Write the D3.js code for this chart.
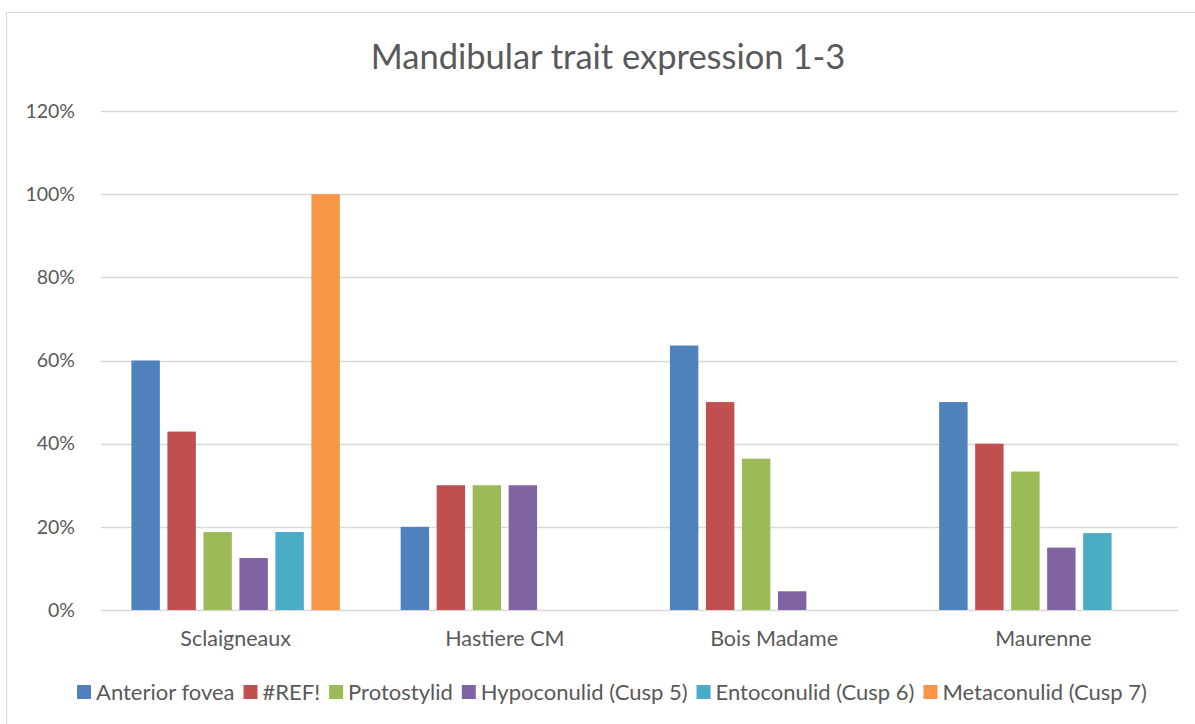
<!DOCTYPE html>
<html>
<head>
<meta charset="utf-8">
<script src="https://cdn.jsdelivr.net/npm/d3@7"></script>
<style>
  body { margin: 0; background: #fff; }
  text { font-family: Lato, "Open Sans", sans-serif; fill: #595959; }
</style>
</head>
<body>
<script>
var sites = ["Sclaigneaux", "Hastiere CM", "Bois Madame", "Maurenne"];
var traits = ["Anterior fovea", "#REF!", "Protostylid", "Hypoconulid (Cusp 5)", "Entoconulid (Cusp 6)", "Metaconulid (Cusp 7)"];
var colours = ["#4f81bd", "#c0504d", "#9bbb59", "#8064a2", "#4bacc6", "#f79646"];
// one array per trait, values per site (fraction)
var anteriorFovea = [0.60, 0.20, 0.636, 0.50];
var refError = [0.429, 0.30, 0.50, 0.40];
var protostylid = [0.1875, 0.30, 0.364, 0.333];
var hypoconulid = [0.125, 0.30, 0.045, 0.15];
var entoconulid = [0.1875, 0, 0, 0.185];
var metaconulid = [1.00, 0, 0, 0];
var yTicks = [0, 0.2, 0.4, 0.6, 0.8, 1.0, 1.2];

var series = [anteriorFovea, refError, protostylid, hypoconulid, entoconulid, metaconulid];

var W = 1195, H = 724,
    margin = {top: 111, right: 17, bottom: 114, left: 101};

var svg = d3.select("body").append("svg")
    .attr("width", W).attr("height", H);

svg.append("rect")
    .attr("x", 6.5).attr("y", 12.5)
    .attr("width", W).attr("height", H)
    .attr("fill", "#fff").attr("stroke", "#d9d9d9");

var x = d3.scaleBand().domain(sites)
    .range([margin.left, W - margin.right]);
var x1 = d3.scaleBand().domain(d3.range(traits.length))
    .range([0, x.bandwidth()]).paddingInner(0.21).paddingOuter(0.845);
var y = d3.scaleLinear().domain([0, 1.2])
    .range([H - margin.bottom, margin.top]);

// gridlines
svg.append("g").selectAll("line").data(yTicks).join("line")
    .attr("x1", margin.left).attr("x2", W - margin.right)
    .attr("y1", function(d) { return Math.round(y(d)) + 0.5; })
    .attr("y2", function(d) { return Math.round(y(d)) + 0.5; })
    .attr("stroke", "#d9d9d9").attr("stroke-width", 1.3);

var yAxis = svg.append("g")
    .attr("transform", "translate(" + (margin.left - 23) + ",0)")
    .call(d3.axisLeft(y).tickValues(yTicks).tickFormat(d3.format(".0%")).tickSize(0));
yAxis.select(".domain").remove();
yAxis.selectAll("text").attr("font-size", 19.5).attr("fill", "#595959")
    .attr("font-family", "Lato, sans-serif").attr("dx", 0);

var xAxis = svg.append("g")
    .attr("transform", "translate(0," + (H - margin.bottom) + ")")
    .call(d3.axisBottom(x).tickSize(0));
xAxis.select(".domain").remove();
xAxis.selectAll("text").attr("font-size", 21.5).attr("fill", "#595959")
    .attr("font-family", "Lato, sans-serif").attr("dy", 33);

// bars
series.forEach(function(vals, i) {
    svg.append("g").selectAll("rect").data(vals).join("rect")
        .attr("x", function(d, j) { return x(sites[j]) + x1(i); })
        .attr("width", x1.bandwidth())
        .attr("y", function(d) { return y(d); })
        .attr("height", function(d) { return y(0) - y(d); })
        .attr("fill", colours[i]);
});

// title
svg.append("text")
    .attr("x", 608).attr("y", 69)
    .attr("text-anchor", "middle")
    .attr("font-size", 34.5)
    .text("Mandibular trait expression 1-3");

// legend
var legend = svg.append("g").attr("transform", "translate(0,692)");
var items = legend.selectAll("g").data(traits).join("g");
items.append("rect").attr("width", 14).attr("height", 14).attr("y", -7)
    .attr("fill", function(d, i) { return colours[i]; });
items.append("text").attr("x", 19).attr("dy", "0.35em")
    .attr("font-size", 22).text(function(d) { return d; });
var pos = 0, offs = [];
items.each(function() {
    offs.push(pos);
    pos += 19 + d3.select(this).select("text").node().getComputedTextLength() + 9;
});
var start = (76 + 1148) / 2 - (pos - 9) / 2;
items.attr("transform", function(d, i) { return "translate(" + (start + offs[i]) + ",0)"; });
</script>
</body>
</html>
